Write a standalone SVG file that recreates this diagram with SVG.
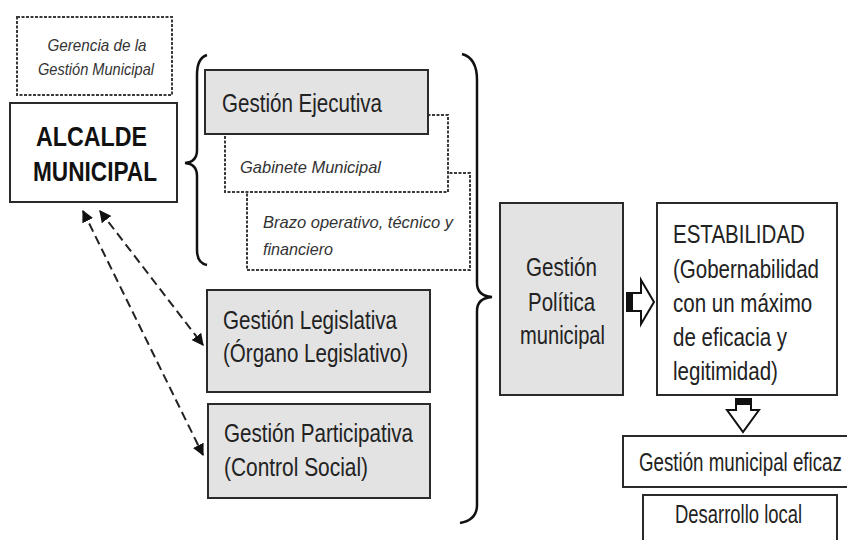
<svg xmlns="http://www.w3.org/2000/svg" width="847" height="540" viewBox="0 0 847 540">
<defs>
<style>
.box{fill:#fff;stroke:#2a2a2a;stroke-width:2}
.gray{fill:#e3e3e3;stroke:#2a2a2a;stroke-width:2}
.dash{fill:#fff;stroke:#3a3a3a;stroke-width:2;stroke-dasharray:3 1.5}
.t{font-family:"Liberation Sans",Arial,sans-serif;fill:#222;font-size:26px}
.it{font-family:"Liberation Sans",Arial,sans-serif;fill:#333;font-size:17px;font-style:italic}
.b{font-family:"Liberation Sans",Arial,sans-serif;fill:#111;font-size:27px;font-weight:bold}
.brace{fill:none;stroke:#111;stroke-width:2.5}
.conn{fill:none;stroke:#222;stroke-width:2;stroke-dasharray:9 5}
</style>
<marker id="ah" viewBox="0 0 10 10" refX="9" refY="5" markerWidth="6" markerHeight="6" orient="auto-start-reverse" markerUnits="strokeWidth">
<path d="M0,0 L10,5 L0,10 Z" fill="#111"/>
</marker>
</defs>
<rect width="847" height="540" fill="#fff"/>

<g id="gerencia">
<rect class="dash" x="17" y="17" width="155" height="78"/>
<text class="it" x="97" y="51" text-anchor="middle" textLength="99" lengthAdjust="spacingAndGlyphs">Gerencia de la</text>
<text class="it" x="96" y="75" text-anchor="middle" textLength="116" lengthAdjust="spacingAndGlyphs">Gestión Municipal</text>
</g>

<g id="alcalde">
<rect class="box" x="10" y="103" width="167" height="99"/>
<text class="b" x="36" y="146" textLength="111" lengthAdjust="spacingAndGlyphs">ALCALDE</text>
<text class="b" x="33" y="181" textLength="124" lengthAdjust="spacingAndGlyphs">MUNICIPAL</text>
</g>

<g id="brazo">
<rect class="dash" x="247" y="173" width="223" height="97"/>
<text class="it" x="263" y="228" textLength="190" lengthAdjust="spacingAndGlyphs">Brazo operativo, técnico y</text>
<text class="it" x="263" y="255" textLength="70" lengthAdjust="spacingAndGlyphs">financiero</text>
</g>

<g id="gabinete">
<rect class="dash" x="225" y="115" width="223" height="77"/>
<text class="it" x="240" y="173" textLength="141" lengthAdjust="spacingAndGlyphs">Gabinete Municipal</text>
</g>

<g id="ejecutiva">
<rect class="gray" x="205" y="70" width="223" height="64"/>
<text class="t" x="222" y="112" textLength="160" lengthAdjust="spacingAndGlyphs">Gestión Ejecutiva</text>
</g>

<g id="legislativa">
<rect class="gray" x="207" y="290" width="223" height="102"/>
<text class="t" x="223" y="329" textLength="174" lengthAdjust="spacingAndGlyphs">Gestión Legislativa</text>
<text class="t" x="223" y="362" textLength="185" lengthAdjust="spacingAndGlyphs">(Órgano Legislativo)</text>
</g>

<g id="participativa">
<rect class="gray" x="208" y="404" width="222" height="94"/>
<text class="t" x="224" y="442" textLength="189" lengthAdjust="spacingAndGlyphs">Gestión Participativa</text>
<text class="t" x="224" y="476" textLength="144" lengthAdjust="spacingAndGlyphs">(Control Social)</text>
</g>

<g id="politica">
<rect class="gray" x="500" y="203" width="123" height="192"/>
<text class="t" x="561.500" y="276" text-anchor="middle" textLength="71" lengthAdjust="spacingAndGlyphs">Gestión</text>
<text class="t" x="561.500" y="311" text-anchor="middle" textLength="67" lengthAdjust="spacingAndGlyphs">Política</text>
<text class="t" x="562.500" y="344" text-anchor="middle" textLength="85" lengthAdjust="spacingAndGlyphs">municipal</text>
</g>

<g id="estabilidad">
<rect class="box" x="657" y="203" width="180" height="192"/>
<g transform="translate(673,0) scale(0.79,1)">
<text class="t" x="0" y="243">ESTABILIDAD</text>
<text class="t" x="0" y="278">(Gobernabilidad</text>
<text class="t" x="0" y="312">con un máximo</text>
<text class="t" x="0" y="346">de eficacia y</text>
<text class="t" x="0" y="380">legitimidad)</text>
</g>
</g>

<g id="eficaz">
<path class="box" d="M848,436 H623 V487 H848"/>
<text class="t" transform="translate(639,471) scale(0.72,1)" x="0" y="0">Gestión municipal eficaz</text>
</g>

<g id="desarrollo">
<path class="box" d="M643,541 V495 H837 V541"/>
<text class="t" transform="translate(675,523) scale(0.71,1)" x="0" y="0">Desarrollo local</text>
</g>

<g id="connectors">
<path class="brace" d="M207,55 Q197,58 197,75 L197,150 Q197,162 185,163 Q197,164 197,176 L197,250 Q197,263 207,265"/>
<path class="brace" d="M462,54 Q477,58 477,80 L477,283 Q477,296 492,297 Q477,298 477,311 L477,505 Q477,520 460,523"/>
<line class="conn" x1="100" y1="211" x2="203" y2="345" marker-start="url(#ah)" marker-end="url(#ah)"/>
<line class="conn" x1="83" y1="211" x2="203" y2="455" marker-start="url(#ah)" marker-end="url(#ah)"/>
<path d="M627,293 L641,293 L641,280 L654,302 L641,324 L641,311 L627,311 Z" fill="#fff" stroke="#111" stroke-width="2" stroke-linejoin="miter"/>
<rect x="626" y="292" width="7" height="20" fill="#111"/>
<path d="M736,399 L751,399 L751,410 L759,410 L743,432 L727,410 L736,410 Z" fill="#fff" stroke="#111" stroke-width="2"/>
<rect x="735" y="398" width="17" height="7" fill="#111"/>
</g>
</svg>
